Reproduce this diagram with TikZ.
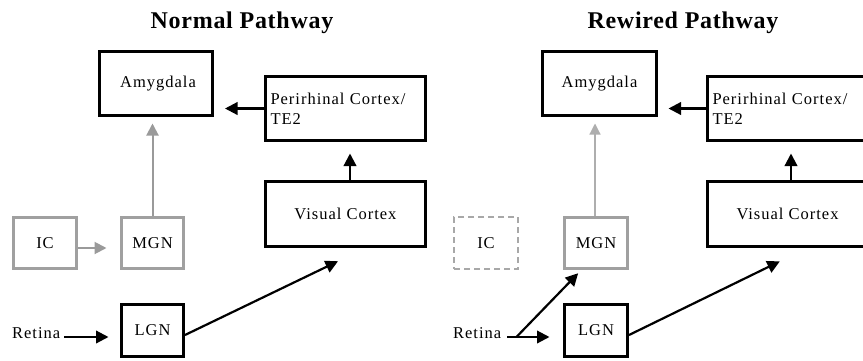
\documentclass[tikz,border=0pt]{standalone}
\usepackage{fontspec}
\setmainfont{Liberation Serif}
\newfontfamily\boxfont[LetterSpace=6]{Liberation Serif}
\newfontfamily\ttlfont[LetterSpace=3]{Liberation Serif}
\usetikzlibrary{arrows.meta,calc}
\definecolor{gbox}{HTML}{A0A0A0}
\definecolor{garr}{HTML}{9A9A9A}
\definecolor{gdash}{HTML}{A8A8A8}
\tikzset{
  x=1pt,y=-1pt,
  bfnt/.style={font=\boxfont\fontsize{16.5}{20}\selectfont},
  blackbox/.style={draw=black,line width=3pt,fill=white,bfnt,inner sep=0pt},
  graybox/.style={draw=gbox,line width=3pt,fill=white,bfnt,inner sep=0pt},
  dashbox/.style={draw=gdash,line width=2pt,dash pattern=on 6pt off 4pt,fill=white,bfnt,inner sep=0pt},
  lbl/.style={bfnt,inner sep=0pt},
  ttl/.style={font=\ttlfont\fontsize{24}{28}\selectfont\bfseries,inner sep=0pt},
  barr/.style={draw=black,line width=2.2pt,-{Triangle[length=12.5pt,width=12.5pt]}},
  garrow/.style={draw=garr,line width=2pt,-{Triangle[length=12pt,width=12pt]}},
  thingarrow/.style={draw=garr!80,line width=1.2pt,-{Triangle[length=11pt,width=11pt]}},
  peri/.style={blackbox,align=left,text width=150pt,inner xsep=5pt}
}
\begin{document}
\begin{tikzpicture}
\useasboundingbox (0,0) rectangle (863,360);
\clip (0,0) rectangle (863,360);
% titles
\node[ttl] (t1) at (242,23) {Normal Pathway};
\node[ttl] (t2) at (683,23) {Rewired Pathway};

% ---------- Normal pathway ----------
\node[blackbox,minimum width=113pt,minimum height=64pt] (amygL) at (156,83.5) {\hspace*{4pt}Amygdala};
\node[peri,minimum width=160pt,minimum height=64pt] (periL) at (345.5,108.5) {Perirhinal Cortex/\\TE2};
\node[blackbox,minimum width=160pt,minimum height=65pt] (vcL) at (345.5,214) {Visual Cortex};
\node[graybox,minimum width=63pt,minimum height=51pt] (icL) at (45,243) {IC};
\node[graybox,minimum width=62pt,minimum height=51pt] (mgnL) at (152.5,243) {MGN};
\node[blackbox,minimum width=62pt,minimum height=52pt] (lgnL) at (152.5,330.5) {LGN};
\node[lbl,anchor=west] (retL) at (12,333) {Retina};

\draw[barr,shorten >=11pt] (periL.west) -- (amygL.east |- periL.west);
\draw[barr,shorten >=11.5pt] ($(vcL.north)+(4.5,0)$) -- ($(periL.south)+(4.5,0)$);
\draw[garrow,shorten >=13.5pt] ($(icL.east)+(0,5)$) -- ($(mgnL.west)+(0,5)$);
\draw[garrow,shorten >=6.5pt] (mgnL.north) -- (amygL.south -| mgnL.north);
\draw[barr,shorten <=4pt,shorten >=11.5pt] ($(retL.east)+(0,4)$) -- ($(lgnL.west)+(0,6.5)$);
\draw[barr,shorten >=30.5pt] ($(lgnL.east)+(0,4.5)$) -- ($(vcL.south)+(20,0)$);

% ---------- Rewired pathway ----------
\node[blackbox,minimum width=114pt,minimum height=64pt] (amygR) at (599.5,83.5) {Amygdala};
\node[peri,minimum width=172pt,minimum height=64pt,text width=162pt] (periR) at (793.5,108.5) {Perirhinal Cortex/\\TE2};
\node[blackbox,minimum width=172pt,minimum height=65pt] (vcR) at (793.5,214) {\hspace*{-12pt}Visual Cortex};
\node[dashbox,minimum width=64pt,minimum height=52pt] (icR) at (486,243) {IC};
\node[graybox,minimum width=63pt,minimum height=51pt] (mgnR) at (596,243) {MGN};
\node[blackbox,minimum width=63pt,minimum height=52pt] (lgnR) at (596,330.5) {LGN};
\node[lbl,anchor=west] (retR) at (453,333) {Retina};
\coordinate (split) at ($(retR.east)+(15,4)$);

\draw[barr,shorten >=10.5pt] (periR.west) -- (amygR.east |- periR.west);
\draw[barr,shorten >=11.5pt] ($(vcR.north)+(-2.5,0)$) -- ($(periR.south)+(-2.5,0)$);
\draw[thingarrow,shorten >=6.5pt] ($(mgnR.north)+(-1,0)$) -- ($(amygR.south -| mgnR.north)+(-1,0)$);
\draw[barr,shorten <=6pt,shorten >=13.5pt] ($(retR.east)+(0,4)$) -- ($(lgnR.west)+(0,6.5)$);
\draw[barr,shorten >=4.5pt] (split) -- ($(mgnR.south)+(-14.7,0)$);
\draw[barr,shorten >=30.5pt] ($(lgnR.east)+(0,4.5)$) -- ($(vcR.south)+(13.7,0)$);
\end{tikzpicture}
\end{document}
